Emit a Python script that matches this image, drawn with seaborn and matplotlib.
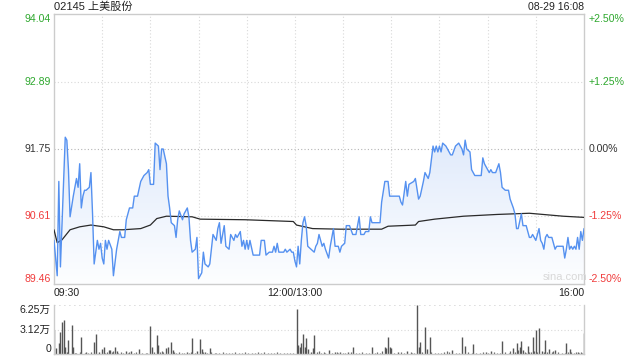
import numpy as np
import pandas as pd
import seaborn as sns
import matplotlib
matplotlib.use("Agg")
import matplotlib.pyplot as plt
from matplotlib.patches import Polygon
from matplotlib.colors import LinearSegmentedColormap
from matplotlib.transforms import blended_transform_factory

sns.set_theme(style="white")
plt.rcParams["font.family"] = ["Liberation Sans", "Noto Sans CJK SC", "DejaVu Sans"]

title = "02145 上美股份"
stamp = "08-29 16:08"
price_ticks = [89.46, 90.61, 91.75, 92.89, 94.04]
price_labels = ["89.46", "90.61", "91.75", "92.89", "94.04"]
pct_labels = ["-2.50%", "-1.25%", "0.00%", "+1.25%", "+2.50%"]
tick_colors = ["#f03c3c", "#f03c3c", "#333333", "#2ea82e", "#2ea82e"]
time_ticks = [0, 150, 330]
time_labels = ["09:30", "12:00/13:00", "16:00"]
vol_ticks = [0, 31250, 62500]
vol_labels = ["0", "3.12万", "6.25万"]

# minutes after 09:30 (trading minutes, lunch break removed)
price_min = [0, 2, 3, 4, 7, 8, 9, 10, 12, 14, 15, 16, 17, 18, 19, 20, 22, 23, 24, 25,
             27, 28, 29, 30, 31, 32, 33, 34, 36, 37, 39, 41, 42, 44, 45, 47, 49, 50, 52, 54,
             56, 58, 59, 60, 62, 63, 65, 66, 67, 68, 70, 71, 72, 73, 75, 76, 77, 78, 80, 81,
             83, 84, 85, 86, 88, 89, 90, 92, 93, 94, 96, 97, 99, 101, 102, 103, 104, 106, 107, 109,
             110, 112, 113, 114, 116, 117, 118, 119, 120, 121, 122, 124, 126, 128, 129, 131, 132, 134, 136, 137,
             138, 139, 140, 143, 144, 145, 147, 148, 149, 150, 151, 152, 153, 154, 155, 156, 157, 158, 160, 162,
             163, 164, 165, 167, 168, 169, 171, 172, 174, 175, 177, 178, 179, 181, 182, 184, 186, 188, 190, 191,
             193, 194, 196, 197, 198, 200, 203, 204, 206, 208, 209, 211, 215, 216, 217, 219, 220, 221, 224, 225,
             227, 228, 230, 231, 233, 234, 236, 237, 238, 239, 240, 241, 242, 244, 245, 247, 248, 250, 252, 254,
             255, 256, 257, 259, 260, 262, 266, 267, 268, 270, 271, 272, 273, 275, 277, 278, 279, 281, 283, 284,
             286, 287, 288, 289, 291, 292, 294, 295, 296, 297, 298, 299, 300, 302, 303, 304, 305, 306, 307, 308,
             309, 310, 312, 313, 317, 318, 319, 320, 321, 322, 323, 324, 325, 326, 327, 328, 329, 330]
price_val = [90.20, 89.60, 91.20, 89.75, 91.95, 91.90, 91.40, 90.60, 90.95, 91.25, 91.10, 91.50, 90.75, 90.95, 91.05, 91.05, 91.10, 91.35, 90.65, 89.80,
             90.20, 90.05, 90.15, 89.90, 89.80, 90.20, 90.05, 90.20, 90.05, 89.60, 90.05, 90.35, 90.25, 90.25, 90.55, 90.75, 90.75, 90.95, 90.95, 91.20,
             91.30, 91.35, 91.40, 91.15, 91.15, 91.85, 91.80, 91.40, 91.75, 91.75, 91.50, 90.95, 90.75, 90.50, 90.45, 90.25, 90.55, 90.70, 90.55, 90.65,
             90.75, 90.60, 90.20, 90.00, 90.05, 90.25, 89.55, 89.65, 90.00, 89.80, 89.75, 89.80, 90.30, 90.20, 90.40, 90.50, 90.15, 90.45, 90.10, 90.05,
             90.30, 90.20, 90.30, 90.25, 90.35, 90.10, 90.20, 90.05, 90.20, 90.05, 90.20, 89.95, 89.95, 89.95, 90.20, 90.20, 89.95, 90.00, 90.00, 90.10,
             90.00, 90.15, 90.00, 90.00, 90.05, 90.00, 90.05, 90.00, 90.00, 89.85, 89.75, 90.10, 89.80, 90.20, 90.50, 90.60, 90.45, 90.10, 90.05, 90.00,
             90.10, 90.15, 90.30, 90.10, 90.15, 90.05, 89.90, 90.10, 90.40, 90.10, 90.10, 90.00, 90.10, 90.15, 90.45, 90.45, 90.30, 90.30, 90.60, 90.30,
             90.30, 90.35, 90.35, 90.60, 90.50, 90.50, 90.50, 90.85, 91.20, 91.20, 90.95, 90.95, 90.95, 90.85, 90.80, 91.20, 90.95, 91.15, 91.20, 91.25,
             90.90, 90.95, 91.20, 91.35, 91.25, 91.35, 91.80, 91.70, 91.80, 91.70, 91.80, 91.70, 91.85, 91.80, 91.75, 91.65, 91.65, 91.80, 91.85, 91.75,
             91.65, 91.90, 91.75, 91.70, 91.40, 91.30, 91.30, 91.60, 91.50, 91.40, 91.35, 91.40, 91.35, 91.35, 91.50, 91.35, 91.10, 91.05, 91.05, 90.90,
             90.75, 90.65, 90.40, 90.40, 90.65, 90.45, 90.45, 90.35, 90.25, 90.25, 90.30, 90.25, 90.20, 90.40, 90.20, 90.15, 90.05, 90.25, 90.30, 90.25,
             90.25, 90.25, 90.05, 90.10, 90.10, 89.90, 90.05, 90.25, 90.05, 90.10, 90.05, 90.10, 90.05, 90.25, 90.05, 90.35, 90.20, 90.40]

avg_min = [0, 2, 5, 10, 16, 23, 31, 37, 43, 54, 60, 64, 70, 86, 91, 119, 149, 151, 161, 178,
           204, 208, 225, 227, 237, 255, 276, 296, 317, 330]
avg_val = [90.38, 90.16, 90.21, 90.38, 90.43, 90.46, 90.43, 90.38, 90.38, 90.40, 90.46, 90.57, 90.61, 90.60, 90.56, 90.55, 90.52, 90.46, 90.40, 90.39,
           90.39, 90.44, 90.46, 90.52, 90.56, 90.61, 90.64, 90.66, 90.61, 90.59]

vol_big_min = [0, 1, 3, 4, 5, 6, 7, 8, 9, 11, 12, 13, 17, 20, 25, 26, 28, 30, 31, 34,
               35, 38, 39, 45, 48, 53, 60, 61, 64, 65, 70, 71, 73, 74, 83, 86, 89, 91, 92, 94,
               97, 151, 152, 153, 154, 155, 156, 157, 158, 160, 161, 162, 171, 175, 178, 183, 186, 198, 206, 207,
               208, 209, 210, 214, 220, 226, 227, 228, 231, 232, 234, 248, 254, 256, 261, 269, 272, 279, 286, 288,
               290, 291, 292, 295, 298, 300, 302, 304, 306, 308, 312, 319, 321, 326, 330]
vol_big_val = [30600, 7200, 13600, 28500, 41200, 43400, 8500, 2500, 17900, 37000, 9400, 1500, 22100, 2500, 15700, 25500, 2500, 6000, 8500, 4500,
               4500, 8500, 3500, 3500, 3500, 6000, 35700, 9400, 24200, 11500, 7200, 9400, 15700, 5000, 3000, 20000, 4000, 18700, 6000, 3000,
               7200, 57400, 11500, 9400, 14500, 25500, 8500, 20000, 6000, 3000, 7200, 24200, 5000, 3000, 3000, 3000, 8500, 9400, 8500, 7200,
               21300, 8500, 7200, 3000, 4000, 62500, 9400, 14900, 34900, 6000, 22100, 5000, 22100, 10200, 12800, 3000, 4000, 16600, 7200, 14500,
               9400, 17000, 5000, 10200, 22100, 30600, 32700, 4000, 17900, 6000, 5000, 13600, 6000, 3000, 27200]

vol_small_min = [14, 16, 19, 21, 23, 32, 33, 36, 37, 40, 42, 43, 46, 47, 50, 51, 55, 57, 58, 62,
                 66, 67, 68, 75, 76, 78, 80, 81, 84, 85, 88, 93, 95, 98, 100, 101, 103, 105, 107, 109,
                 111, 113, 115, 117, 119, 121, 123, 125, 127, 129, 131, 133, 135, 137, 139, 141, 143, 145, 147, 149,
                 164, 165, 166, 168, 169, 173, 176, 177, 180, 181, 185, 188, 190, 192, 194, 196, 200, 201, 203, 204,
                 212, 216, 218, 222, 223, 224, 229, 235, 237, 239, 241, 243, 245, 246, 250, 252, 258, 260, 263, 265,
                 267, 270, 274, 276, 278, 281, 283, 284, 287, 289, 293, 294, 296, 297, 299, 301, 305, 307, 310, 311,
                 314, 316, 318, 320, 322, 324, 325, 327, 328, 329]
vol_small_val = [1500, 2000, 1200, 1800, 2500, 1500, 3000, 2000, 4000, 1500, 2500, 1800, 1200, 2000, 1500, 2200, 1800, 1200, 1500, 2500,
                 3000, 4000, 2000, 2500, 1500, 2000, 1200, 1800, 1500, 2500, 1500, 2000, 1500, 2500, 1200, 1800, 1500, 2000, 1200, 1800,
                 1500, 2200, 1200, 1800, 2500, 1500, 1800, 1200, 2000, 1500, 2500, 1200, 1800, 1500, 2000, 1200, 1500, 1800, 1200, 1500,
                 2000, 3500, 1500, 2500, 1800, 1500, 2200, 1200, 1800, 1200, 2000, 1500, 1200, 2500, 1500, 1800, 1200, 2500, 1500, 4000,
                 1800, 2500, 1500, 2000, 1200, 1800, 2500, 2000, 1500, 1200, 1800, 2500, 4000, 3000, 1500, 1200, 2000, 1500, 1800, 1200,
                 2500, 1500, 2000, 1500, 1800, 2500, 1200, 3500, 2000, 4500, 2500, 1800, 3000, 2500, 4000, 2000, 3000, 2500, 2000, 4000,
                 2500, 1800, 1500, 2500, 3000, 1500, 2000, 1200, 2500, 1500]

grid_c = "#d9d9d9"
frame_c = "#cccccc"
W, H = 640, 360
fig = plt.figure(figsize=(6.4, 3.6), dpi=100)
fig.patch.set_facecolor("white")

ax = fig.add_axes([54 / W, 1 - 284 / H, 530 / W, 270 / H])
ax2 = fig.add_axes([54 / W, 1 - 354 / H, 530 / W, 49 / H])

ymin, ymax = price_ticks[0], price_ticks[-1]

# gradient fill under the price line
verts = [(price_min[0], ymin)] + list(zip(price_min, price_val)) + [(price_min[-1], ymin)]
poly = Polygon(verts, closed=True, facecolor="none", edgecolor="none")
ax.add_patch(poly)
cmap = LinearSegmentedColormap.from_list("g", ["#fdfeff", "#e0eafb"])
grad = np.linspace(1, 0, 256).reshape(-1, 1)
im = ax.imshow(grad, extent=[0, 330, ymin, max(price_val)], aspect="auto",
               cmap=cmap, origin="upper", zorder=1, interpolation="bilinear")
im.set_clip_path(poly)

df_p = pd.DataFrame({"minute": price_min, "price": price_val})
df_a = pd.DataFrame({"minute": avg_min, "avg": avg_val})
sns.lineplot(data=df_p, x="minute", y="price", ax=ax, color="#5591f0", lw=1.0, zorder=4)
sns.lineplot(data=df_a, x="minute", y="avg", ax=ax, color="#2a2a2a", lw=0.9, zorder=3)

ax.set_xlim(0, 330)
ax.set_ylim(ymin, ymax)
ax.set_xticks(range(0, 331, 30))
ax.set_yticks(price_ticks)
ax.set_xticklabels([])
ax.set_yticklabels([])
ax.tick_params(length=0)
ax.set_xlabel("")
ax.set_ylabel("")
for x in range(30, 330, 30):
    ax.axvline(x, color=grid_c, lw=0.8, ls=(0, (1, 2)), zorder=0.5)
for y in price_ticks[1:-1]:
    c = "#b5b5b5" if abs(y - 91.75) < 1e-6 else grid_c
    ax.axhline(y, color=c, lw=0.8, ls=(0, (1, 2)), zorder=0.5)
for s in ax.spines.values():
    s.set_color(frame_c)
    s.set_linewidth(1.0)

trL = blended_transform_factory(fig.transFigure, ax.transData)
fs = 7.6
for i, (y, lab, c) in enumerate(zip(price_ticks, price_labels, tick_colors)):
    va = "bottom" if i == 0 else ("top" if i == len(price_ticks) - 1 else "center")
    ax.text(51 / W, y, lab, transform=trL, ha="right", va=va, color=c, fontsize=fs)
    ax.text(589 / W, y, pct_labels[i], transform=trL, ha="left", va=va, color=c, fontsize=fs)

ax.text(54.5 / W, 1 - 7 / H, title, transform=fig.transFigure, ha="left", va="center",
        fontsize=8, color="#222222")
ax.text(584 / W, 1 - 7 / H, stamp, transform=fig.transFigure, ha="right", va="center",
        fontsize=7.6, color="#222222")
ax.text(565 / W, 1 - 277 / H, "sina.com", transform=fig.transFigure, ha="center", va="center",
        fontsize=8, color="#d8d8d8")

trX = blended_transform_factory(ax.transData, fig.transFigure)
for t, lab in zip(time_ticks, time_labels):
    ha = "left" if t == 0 else ("right" if t == 330 else "center")
    ax.text(t, 1 - 293 / H, lab, transform=trX, ha=ha, va="center", fontsize=fs, color="#222222")

# volume panel
ax2.vlines(vol_small_min, 0, vol_small_val, color="#666666", lw=0.9)
ax2.vlines(vol_big_min, 0, vol_big_val, color="#555555", lw=1.0)
ax2.set_xlim(0, 330)
ax2.set_ylim(0, 62500)
ax2.set_xticks([])
ax2.set_yticks(vol_ticks)
ax2.set_yticklabels([])
ax2.tick_params(length=0)
ax2.axhline(31250, color=grid_c, lw=0.8, ls=(0, (1, 2)), zorder=0.5)
ax2.axhline(62500, color=grid_c, lw=1.2, ls=(0, (1, 2)), zorder=0.5)
for k, s in ax2.spines.items():
    s.set_color(frame_c)
    s.set_linewidth(1.0)
ax2.spines["top"].set_visible(False)
trV = blended_transform_factory(fig.transFigure, ax2.transData)
for i, (v, lab) in enumerate(zip(vol_ticks, vol_labels)):
    va = "bottom" if i == 0 else ("top" if i == len(vol_ticks) - 1 else "center")
    ax2.text(51 / W, v, lab, transform=trV, ha="right", va=va, fontsize=fs, color="#222222")

fig.savefig("out.png", dpi=100, facecolor="white")
